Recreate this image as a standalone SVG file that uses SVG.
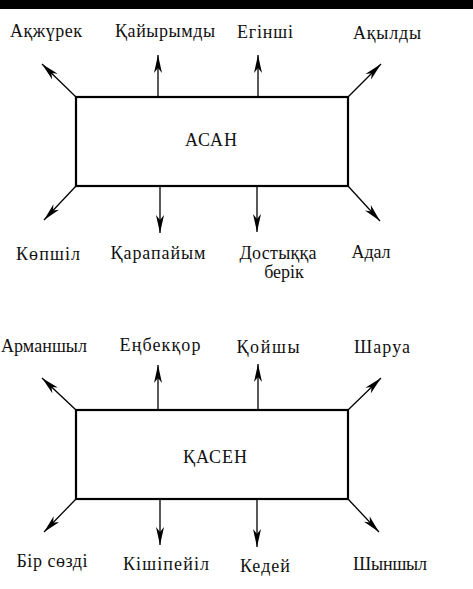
<svg xmlns="http://www.w3.org/2000/svg" width="473" height="589" viewBox="0 0 473 589">
<style>
text{font-family:"Liberation Serif","DejaVu Serif",serif;fill:#111;}
.lbl{font-size:18px;text-anchor:middle;}
.ttl{font-size:18px;text-anchor:middle;}
.box{fill:#fff;stroke:#000;stroke-width:2.2;}
.con{stroke:#000;stroke-width:1.3;fill:none;marker-end:url(#ah);}
</style>
<defs>
<marker id="ah" markerUnits="userSpaceOnUse" markerWidth="19" markerHeight="9" refX="18" refY="4.5" orient="auto">
<path d="M0,0.5 L18,4.5 L0,8.5 L5,4.5 Z" fill="#000"/>
</marker>
</defs>
<rect x="0" y="0" width="473" height="589" fill="#fff"/>
<rect x="0" y="0" width="473" height="9" fill="#000"/>
<g id="connectors">
<path class="con" d="M76,97 L42,64"/>
<path class="con" d="M158,97 L158,55"/>
<path class="con" d="M258,97 L258,55"/>
<path class="con" d="M348,97 L381,64"/>
<path class="con" d="M76,186 L44,220"/>
<path class="con" d="M160,186 L160,233"/>
<path class="con" d="M257,186 L257,232"/>
<path class="con" d="M348,186 L380,221"/>
<path class="con" d="M76,410 L42,378"/>
<path class="con" d="M158,410 L158,365"/>
<path class="con" d="M258,410 L258,364"/>
<path class="con" d="M348,410 L381,378"/>
<path class="con" d="M76,499 L44,532"/>
<path class="con" d="M160,499 L160,545"/>
<path class="con" d="M257,499 L257,547"/>
<path class="con" d="M348,499 L379,532"/>
</g>
<g id="asan">
<rect class="box" x="76" y="97" width="272" height="89"/>
<text class="ttl" x="211" y="146" textLength="52">АСАН</text>
</g>
<g id="kasen">
<rect class="box" x="76" y="410" width="272" height="89"/>
<text class="ttl" x="215" y="463" textLength="64">ҚАСЕН</text>
</g>
<g id="n-akzhurek"><text class="lbl" x="46" y="37" textLength="72">Ақжүрек</text></g>
<g id="n-kaiyrymdy"><text class="lbl" x="165" y="37" textLength="100">Қайырымды</text></g>
<g id="n-eginshi"><text class="lbl" x="265" y="38" textLength="56">Егінші</text></g>
<g id="n-akyldy"><text class="lbl" x="387" y="39" textLength="68">Ақылды</text></g>
<g id="n-kopshil"><text class="lbl" x="48" y="260" textLength="64">Көпшіл</text></g>
<g id="n-karapaiym"><text class="lbl" x="158" y="259" textLength="95">Қарапайым</text></g>
<g id="n-dostykka"><text class="lbl" x="278" y="259" textLength="77">Достыққа</text><text class="lbl" x="284" y="278">берік</text></g>
<g id="n-adal"><text class="lbl" x="371" y="258" textLength="39">Адал</text></g>
<g id="n-armanshyl"><text class="lbl" x="44" y="352" textLength="86">Арманшыл</text></g>
<g id="n-enbekkor"><text class="lbl" x="160" y="351" textLength="81">Еңбекқор</text></g>
<g id="n-koishy"><text class="lbl" x="268" y="353" textLength="63">Қойшы</text></g>
<g id="n-sharua"><text class="lbl" x="382" y="353" textLength="56">Шаруа</text></g>
<g id="n-bir-sozdi"><text class="lbl" x="52" y="567" textLength="71">Бір сөзді</text></g>
<g id="n-kishipeiil"><text class="lbl" x="166" y="570" textLength="86">Кішіпейіл</text></g>
<g id="n-kedei"><text class="lbl" x="265" y="572" textLength="50">Кедей</text></g>
<g id="n-shynshyl"><text class="lbl" x="390" y="570" textLength="74">Шыншыл</text></g>
</svg>
